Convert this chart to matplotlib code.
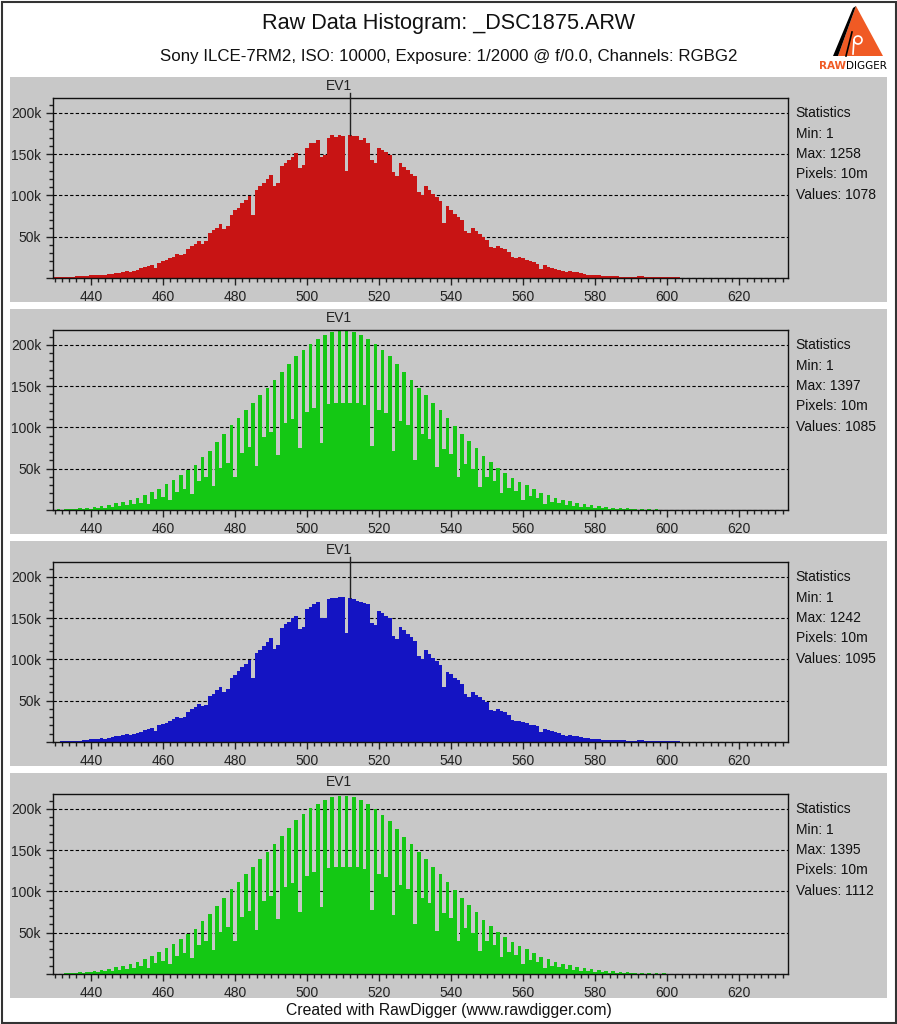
import numpy as np
import matplotlib.pyplot as plt
from matplotlib.patches import Rectangle, Polygon
from matplotlib.ticker import MultipleLocator, FuncFormatter
import matplotlib.transforms as mtransforms

plt.rcParams['font.family'] = ['Liberation Sans', 'DejaVu Sans']

W, H = 897, 1024

# histogram counts in thousands, one per raw value starting at `first`
first = 430
red = [0.8, 0.8, 1.0, 1.6, 1.8, 1.8, 2.0, 2.0, 2.2, 3.0,
       3.2, 3.5, 3.6, 4.2, 3.4, 4.4, 5.2, 6.0, 6.3, 7.2,
       8.2, 7.4, 8.4, 10.2, 12.0, 13.2, 14.2, 15.4, 12.5, 18.5,
       21, 22, 24, 26, 29.5, 27.5, 29.5, 35.5, 39, 41.5,
       44.5, 41.5, 44.5, 54.5, 58, 61, 65.5, 59, 63.5, 76.5,
       82, 84.5, 90.5, 94.5, 99.5, 76.5, 106.5, 111, 115.5, 120.5,
       124.5, 111.5, 115.5, 136, 139.5, 143.5, 147, 151, 133.5, 137,
       158, 163, 163, 167, 146, 149, 170, 173, 171, 173,
       172, 129, 173, 172, 172, 167, 169, 164, 143, 139,
       158, 155, 152, 149, 128, 124, 139, 135, 131, 126,
       124, 104, 100, 111, 107, 102, 98, 93, 67, 87,
       82, 78, 74, 70, 57, 55, 60, 57, 53, 50,
       46, 38, 36, 39, 36, 35, 32, 26, 24, 26,
       24, 22, 20.5, 19, 17.5, 11.5, 15.5, 13.5, 12.5, 11.5,
       9.8, 8.5, 7.2, 8.5, 7.2, 7.0, 5.8, 4.8, 3.8, 3.8,
       3.6, 3.6, 2.8, 2.8, 2.0, 2.0, 2.0, 1.8, 1.8, 1.6,
       1.6, 1.5, 2.0, 2.0, 1.2, 1.2, 1.1, 1.1, 1.0, 1.0,
       1.0, 0.9, 0.9, 0.8, 0, 0, 0, 0, 0, 0]
green1 = [0.3, 0.7, 0.5, 1.0, 0.8, 1.5, 1.0, 2.0, 1.3, 3.0,
          1.8, 4.0, 2.3, 5.0, 3.0, 6.0, 4.0, 8.0, 5.0, 10,
          6.0, 12, 7.5, 14, 9.0, 18, 7.0, 22, 13, 26,
          16, 31, 12, 36, 22, 42, 26, 48, 19, 55,
          35, 64, 40, 72, 29, 82, 51, 92, 57, 103,
          40, 112, 69, 121, 76, 130, 53, 139, 88, 148,
          94, 157, 67, 167, 105, 177, 110, 186, 75, 194,
          119, 201, 123, 207, 81, 212, 128, 215, 129, 217,
          130, 217, 130, 215, 129, 212, 127, 207, 78, 201,
          121, 194, 117, 186, 71, 177, 108, 167, 103, 157,
          61, 148, 92, 139, 86, 130, 52, 121, 74, 111,
          68, 102, 40, 92, 56, 83, 50, 75, 28, 66,
          40, 58, 35, 51, 20, 45, 27, 39, 23, 34,
          12, 30, 17, 25, 14, 21, 7, 18, 10, 15,
          8, 12, 6.5, 11, 5, 9, 4, 7, 3.2, 6,
          2.5, 5, 2, 4, 1.5, 3, 1.2, 2.5, 1, 2,
          0.8, 1.5, 0.6, 1.2, 0.5, 1, 0.4, 0.8, 0.3, 0.6,
          0.3, 0.5, 0.2, 0.4, 0.2, 0.3, 0.1, 0.3, 0.1, 0.2]
blue = [0.6, 0.6, 0.8, 1.5, 1.6, 1.6, 1.8, 1.8, 2.2, 3.0,
        3.2, 3.6, 3.8, 4.6, 3.6, 5.0, 6.0, 7.0, 7.2, 8.2,
        9.2, 8.2, 9.6, 11.2, 12.6, 14.2, 16.2, 17.2, 13.2, 20.2,
        22, 23.5, 25.5, 28, 30.5, 28.5, 30.5, 36.5, 40.5, 42.5,
        45.5, 43, 44.5, 55.5, 58.5, 62.5, 66.5, 60.5, 64.5, 77.5,
        81.5, 86.5, 90.5, 94.5, 99.5, 77.5, 107.5, 111.5, 116.5, 121.5,
        126, 112.5, 117.5, 137.5, 142.5, 145.5, 150, 152.5, 137, 139,
        161, 163, 167, 169, 150, 150, 173, 174, 175, 176,
        176, 132, 174, 173, 171, 169, 168, 167, 144, 142,
        159, 156, 153, 150, 128, 125, 139, 136, 131, 127,
        122, 104, 101, 112, 107, 102, 98, 93, 67, 85,
        82, 78, 75, 70, 58, 55, 60, 57, 54, 51,
        48, 39, 38, 40, 38, 36, 33, 27, 25, 26,
        24, 23, 21, 20, 19, 12, 16, 14.5, 13, 12,
        10.5, 9, 7.8, 9, 7.6, 7.4, 6.2, 5.2, 4.4, 4.2,
        4.0, 3.8, 3.0, 3.0, 2.4, 2.2, 2.2, 2.0, 1.9, 1.8,
        1.7, 1.6, 2.1, 2.0, 1.3, 1.2, 1.2, 1.1, 1.0, 1.0,
        0.9, 0.9, 0.8, 0.8, 0.5, 0, 0, 0, 0, 0]
green2 = [0.3, 0.6, 0.5, 1.0, 0.8, 1.4, 1.0, 2.0, 1.4, 3.0,
          1.9, 4.0, 2.4, 5.2, 3.1, 6.2, 4.1, 8.0, 5.1, 10,
          6.2, 12, 7.6, 14.5, 9.2, 18, 7.2, 22, 13, 26.5,
          16, 31, 12, 36, 22, 42, 26, 48.5, 19, 55,
          35, 64, 40, 72.5, 29, 82, 51, 92, 57, 103,
          40, 112, 69, 121, 76, 130, 53, 139, 88, 148,
          94, 157, 67, 167, 105, 177, 110, 186, 75, 194,
          119, 201, 123, 206, 81, 211, 128, 214, 129, 216,
          130, 216, 130, 214, 129, 211, 127, 206, 78, 200,
          121, 193, 117, 185, 71, 176, 108, 166, 103, 157,
          61, 148, 92, 139, 86, 130, 52, 121, 74, 111,
          68, 102, 40, 92, 56, 83, 50, 75, 28, 66,
          40, 58, 35, 51, 20, 45, 27, 39, 23, 34,
          12, 30, 17, 25, 14, 21, 7, 18, 10, 15,
          8, 12.5, 6.5, 11, 5, 9, 4, 7.2, 3.2, 6,
          2.5, 5, 2, 4, 1.5, 3.2, 1.2, 2.6, 1, 2,
          0.8, 1.6, 0.6, 1.2, 0.5, 1, 0.4, 0.8, 0.3, 0.7,
          0.3, 0.5, 0.2, 0.4, 0.2, 0.3, 0.1, 0.3, 0.1, 0.2]

channels = [red, green1, blue, green2]
colors = ['#c81414', '#14c814', '#1414c3', '#14c814']
stat_max = [1258, 1397, 1242, 1395]
stat_values = [1078, 1085, 1095, 1112]
ev1 = 512
show_cursor = [True, False, True, False]

title = 'Raw Data Histogram: _DSC1875.ARW'
subtitle = 'Sony ILCE-7RM2, ISO: 10000, Exposure: 1/2000 @ f/0.0, Channels: RGBG2'
footer = 'Created with RawDigger (www.rawdigger.com)'


def rect(l, t, r, b):
    # pixel box -> figure fraction
    return [l / W, 1 - b / H, (r - l) / W, (b - t) / H]


fig = plt.figure(figsize=(W / 100, H / 100), dpi=100)
fig.patch.set_facecolor('white')
fig.patches.append(Rectangle((1.5 / W, 1.5 / H), 1 - 3 / W, 1 - 3 / H, transform=fig.transFigure,
                             fill=False, edgecolor='#333333', linewidth=1.5, zorder=10))

fig.text(0.5, 1 - 23 / H, title, ha='center', va='center', fontsize=15.6, color='#111111')
fig.text(0.5, 1 - 56 / H, subtitle, ha='center', va='center', fontsize=12.2, color='#111111')
fig.text(0.5, 1 - 1010 / H, footer, ha='center', va='center', fontsize=11.3, color='#111111')

# logo
lax = fig.add_axes(rect(822, 4, 890, 72))
lax.set_xlim(822, 890)
lax.set_ylim(72, 4)
lax.axis('off')
lax.add_patch(Polygon([(856, 6), (883, 56), (838, 56)], closed=True, color='#f05a24', lw=0))
lax.add_patch(Polygon([(856, 6), (838, 56), (833, 56), (853, 8)], closed=True, color='black', lw=0))
lax.plot([852, 849, 846], [32, 44, 56], color='black', lw=1.2)
circ = plt.Circle((858, 40), 4, fill=False, color='white', lw=1.2)
lax.add_patch(circ)
lax.plot([854, 853], [40, 54], color='white', lw=1.2)
lax.text(846, 66, 'RAW', ha='right', va='center', fontsize=7.5, color='#f05a24',
         fontweight='bold', family='Liberation Sans Narrow')
lax.text(846, 66, 'DIGGER', ha='left', va='center', fontsize=7.5, color='black',
         family='Liberation Sans Narrow')

for i, counts in enumerate(channels):
    top = 77 + 232 * i
    fig.patches.append(Rectangle((10 / W, 1 - (top + 225) / H), 877 / W, 225 / H,
                                 transform=fig.transFigure, facecolor='#c8c8c8',
                                 edgecolor='none', zorder=-10))
    ax = fig.add_axes(rect(53, top + 21, 788, top + 201))
    ax.set_facecolor('#c8c8c8')
    vals = np.array(counts) * 1000
    edges = np.arange(first, first + len(vals) + 1) - 0.5
    ax.stairs(vals, edges, fill=True, color=colors[i], linewidth=0, zorder=2)
    ax.set_xlim(429.5, 633.5)
    ax.set_ylim(0, 218000)

    ax.yaxis.set_major_locator(MultipleLocator(50000))
    ax.yaxis.set_minor_locator(MultipleLocator(10000))
    ax.yaxis.set_major_formatter(FuncFormatter(lambda v, p: '' if v == 0 else '%dk' % (v / 1000)))
    ax.xaxis.set_major_locator(MultipleLocator(20))
    ax.xaxis.set_minor_locator(MultipleLocator(2))
    ax.tick_params(axis='both', which='major', length=5, width=1, labelsize=10, colors='#222222')
    ax.tick_params(axis='both', which='minor', length=3, width=1, colors='#222222')
    ax.grid(axis='y', which='major', color='black', linestyle=(0, (3, 2)), linewidth=0.8, zorder=1)
    ax.set_axisbelow(True)
    for s in ax.spines.values():
        s.set_color('#111111')
        s.set_linewidth(1)
        s.set_zorder(3)

    tr = mtransforms.blended_transform_factory(ax.transData, ax.transAxes)
    ax.text(ev1 + 0.4, 1 + 12 / 180, 'EV1', transform=tr, ha='right', va='center',
            fontsize=10, color='#222222')
    if show_cursor[i]:
        hv = vals[ev1 - first]
        ax.plot([ev1, ev1], [hv, 218000 + 5 / 180 * 218000], color='#222222', lw=1,
                clip_on=False, zorder=4)

    lines = ['Statistics', 'Min: 1', 'Max: %d' % stat_max[i], 'Pixels: 10m',
             'Values: %d' % stat_values[i]]
    for k, s in enumerate(lines):
        ax.text(1.0105, 1 - (15 + 20.5 * k) / 180, s, transform=ax.transAxes,
                ha='left', va='center', fontsize=10, color='#111111')

fig.savefig('out.png', dpi=100, facecolor='white')
